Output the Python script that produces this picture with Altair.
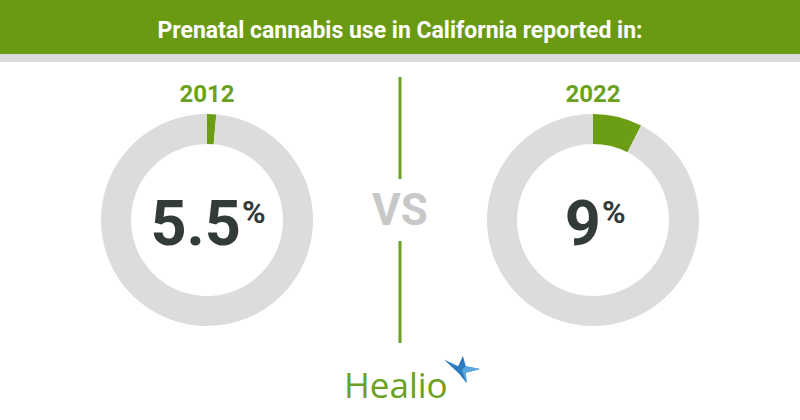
import altair as alt
import pandas as pd

# ---- data ----
years = ["2012", "2022"]
pct_labels = ["5.5", "9"]
arc_share = [1.4, 7.5]          # green arc share as drawn (percent of circle)
title_text = "Prenatal cannabis use in California reported in:"

GREEN = "#6b9e15"
GRAY = "#dcdcdc"
DARK = "#333a3a"

W, H = 800, 420
centers = {"2012": 207, "2022": 593}
num_right = {"2012": 241, "2022": 601}
CY = 220

rows = []
for yr, s in zip(years, arc_share):
    rows.append({"year": yr, "part": "use", "start": 0, "end": s})
    rows.append({"year": yr, "part": "rest", "start": s, "end": 100})
arcs = pd.DataFrame(rows)
labels = pd.DataFrame({"year": years, "pct": pct_labels})

base_none = alt.Chart(pd.DataFrame({"a": [0]}))

header = base_none.mark_rect(color="#6a9a12").encode(
    x=alt.value(0), x2=alt.value(W), y=alt.value(0), y2=alt.value(54))
strip = base_none.mark_rect(color="#dadada").encode(
    x=alt.value(0), x2=alt.value(W), y=alt.value(54), y2=alt.value(62))
title = base_none.mark_text(
    text=title_text, font="Roboto", fontWeight="bold", fontSize=23,
    color="white", align="center", baseline="alphabetic").encode(
    x=alt.value(400), y=alt.value(38))

layers = [header, strip, title]

for yr in years:
    cx = centers[yr]
    donut = alt.Chart(arcs).transform_filter(
        alt.datum.year == yr
    ).mark_arc(outerRadius=106, innerRadius=76, stroke=None).encode(
        theta=alt.Theta("start:Q", scale=alt.Scale(domain=[0, 100], range=[0, 6.283185])),
        theta2="end:Q",
        color=alt.Color("part:N", scale=alt.Scale(domain=["use", "rest"], range=[GREEN, GRAY]), legend=None),
        x=alt.value(cx), y=alt.value(CY))
    year_txt = alt.Chart(labels).transform_filter(alt.datum.year == yr).mark_text(
        font="Roboto", fontWeight="bold", fontSize=24, color="#6aa121",
        align="center", baseline="alphabetic").encode(
        text="year:N", x=alt.value(cx), y=alt.value(102))
    nr = num_right[yr]
    num = alt.Chart(labels).transform_filter(alt.datum.year == yr).mark_text(
        font="Roboto", fontWeight="bold", fontSize=63, color=DARK,
        align="right", baseline="alphabetic").encode(
        text="pct:N", x=alt.value(nr), y=alt.value(245))
    pct = base_none.mark_text(
        text="%", font="Roboto", fontWeight="bold", fontSize=32, color=DARK,
        align="left", baseline="alphabetic").encode(
        x=alt.value(nr + 1), y=alt.value(223))
    layers += [donut, year_txt, num, pct]

line1 = base_none.mark_rule(color="#6aa121", strokeWidth=3).encode(
    x=alt.value(400), y=alt.value(77), y2=alt.value(179))
line2 = base_none.mark_rule(color="#6aa121", strokeWidth=3).encode(
    x=alt.value(400), y=alt.value(241), y2=alt.value(343))
vs = base_none.mark_text(
    text="VS", font="Roboto", fontWeight="bold", fontSize=44, color="#c8c8c8",
    align="center", baseline="middle").encode(x=alt.value(400), y=alt.value(212))

healio = base_none.mark_text(
    text="Healio", font="Open Sans", fontSize=35, color="#6aa121",
    align="left", baseline="alphabetic").encode(x=alt.value(344), y=alt.value(398))
star_path = ("M-0.9,-0.55 L-0.15,-0.2 L0.1,-0.75 L0.25,-0.2 L1,-0.05 "
             "L0.25,0.15 L0.3,0.7 L-0.1,0.2 Z")
star_light = ("M0.25,-0.2 L1,-0.05 L0.25,0.15 L0.3,0.7 L0.05,0.0 Z")
star = base_none.mark_point(
    shape=star_path, size=1444, filled=True, color="#2b7bc0", opacity=1).encode(
    x=alt.value(461), y=alt.value(370))
star2 = base_none.mark_point(
    shape=star_light, size=1444, filled=True, color="#5aa6de", opacity=1).encode(
    x=alt.value(461), y=alt.value(370))

layers += [line1, line2, vs, healio, star, star2]

chart = alt.layer(*layers).properties(
    width=W, height=H, padding=0, autosize="none", background="white"
).configure_view(stroke=None)

chart.save("out.html", embed_options={"renderer": "svg", "actions": False})
